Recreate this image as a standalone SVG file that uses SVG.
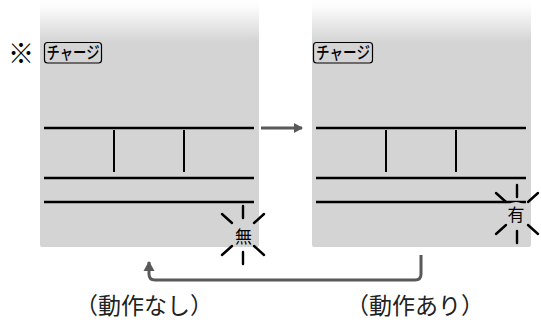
<svg xmlns="http://www.w3.org/2000/svg" width="541" height="320" viewBox="0 0 541 320">
<defs>
<linearGradient id="fade" gradientUnits="userSpaceOnUse" x1="0" y1="0" x2="0" y2="247">
<stop offset="0" stop-color="#ffffff"/>
<stop offset="0.03" stop-color="#fbfbfb"/>
<stop offset="0.17" stop-color="#d4d4d4"/>
<stop offset="1" stop-color="#d4d4d4"/>
</linearGradient>
<marker id="ah" markerWidth="10" markerHeight="10" refX="8" refY="5" orient="auto" markerUnits="userSpaceOnUse">
<path d="M0,0 L9,5 L0,10 Z" fill="#595959"/>
</marker>
<marker id="ah2" markerWidth="12" markerHeight="12" refX="9" refY="6" orient="auto" markerUnits="userSpaceOnUse">
<path d="M0,0.5 L10,6 L0,11.5 Z" fill="#595959"/>
</marker>
</defs>
<style>
.panel{fill:url(#fade)}
.ln{stroke:#000;stroke-width:2.5;fill:none}
.vl{stroke:#000;stroke-width:2;fill:none}
.ray{stroke:#000;stroke-width:2.4;stroke-linecap:round;fill:none}
.conn{stroke:#595959;stroke-width:3;fill:none}
.jp{font-family:"Noto Sans CJK JP","Noto Sans",sans-serif}
.tag{fill:none;stroke:#000;stroke-width:1.2}
.chg{font-size:17px;font-weight:500;fill:#000;text-anchor:middle}
.lbl{font-size:23px;fill:#222;text-anchor:middle}
</style>
<text class="jp" x="21" y="63" font-size="26" text-anchor="middle" fill="#000">※</text>
<g id="panel-before">
<rect class="panel" x="40" y="0" width="219" height="247" rx="2"/>
<rect class="tag" x="44.5" y="42.5" width="57" height="20.5" rx="3"/>
<text class="jp chg" x="73" y="59" textLength="53" lengthAdjust="spacingAndGlyphs">チャージ</text>
<line class="ln" x1="44" y1="128" x2="254" y2="128"/>
<line class="vl" x1="114" y1="130" x2="114" y2="172"/>
<line class="vl" x1="184" y1="130" x2="184" y2="172"/>
<line class="ln" x1="44" y1="178" x2="254" y2="178"/>
<line class="ln" x1="44" y1="202" x2="254" y2="202"/>
</g>
<g id="sparkle-none">
<line class="ray" x1="243" y1="206" x2="243" y2="218"/>
<line class="ray" x1="243" y1="252" x2="243" y2="264"/>
<line class="ray" x1="222" y1="214" x2="232" y2="223"/>
<line class="ray" x1="264" y1="214" x2="254" y2="223"/>
<line class="ray" x1="222" y1="255" x2="232" y2="246"/>
<line class="ray" x1="264" y1="255" x2="254" y2="246"/>
<text class="jp" x="243.5" y="243" font-size="17" text-anchor="middle" fill="#000">無</text>
</g>
<g id="panel-after">
<rect class="panel" x="312" y="0" width="219" height="247" rx="2"/>
<rect class="tag" x="313.5" y="42.5" width="59" height="20.5" rx="3"/>
<text class="jp chg" x="343" y="59" textLength="54" lengthAdjust="spacingAndGlyphs">チャージ</text>
<line class="ln" x1="316" y1="128" x2="526" y2="128"/>
<line class="vl" x1="386" y1="130" x2="386" y2="172"/>
<line class="vl" x1="456" y1="130" x2="456" y2="172"/>
<line class="ln" x1="316" y1="178" x2="526" y2="178"/>
<line class="ln" x1="316" y1="202" x2="526" y2="202"/>
</g>
<g id="sparkle-yes">
<circle cx="516" cy="214" r="12" fill="#d4d4d4"/>
<line class="ray" x1="517" y1="185" x2="517" y2="197"/>
<line class="ray" x1="517" y1="231" x2="517" y2="243"/>
<line class="ray" x1="496" y1="193" x2="506" y2="202"/>
<line class="ray" x1="538" y1="193" x2="528" y2="202"/>
<line class="ray" x1="496" y1="234" x2="506" y2="225"/>
<line class="ray" x1="538" y1="234" x2="528" y2="225"/>
<text class="jp" x="516" y="221" font-size="17" text-anchor="middle" fill="#000">有</text>
</g>
<g id="connectors">
<line class="conn" x1="261" y1="128" x2="302" y2="128" marker-end="url(#ah)"/>
<path class="conn" d="M421,255 V274 Q421,280 415,280 H155 Q149,280 149,274 V262" marker-end="url(#ah2)"/>
</g>
<g id="labels">
<text class="jp lbl" x="144" y="314">（動作なし）</text>
<text class="jp lbl" x="415" y="314">（動作あり）</text>
</g>
</svg>
